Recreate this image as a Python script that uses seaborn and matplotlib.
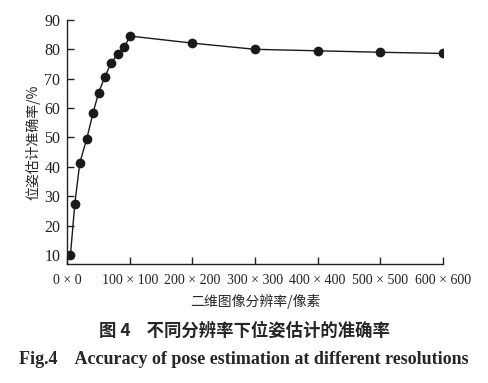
import pandas as pd
import seaborn as sns
import matplotlib.pyplot as plt

# resolution (side length in pixels) and pose estimation accuracy (%)
resolution = [5, 12, 20, 31, 41, 50, 60, 70, 81, 91, 100, 200, 300, 400, 500, 600]
accuracy = [10.2, 27.6, 41.5, 49.5, 58.3, 65.2, 70.6, 75.3, 78.4, 80.6, 84.4,
             82.0, 79.9, 79.4, 78.9, 78.5]
tick_values = [0, 100, 200, 300, 400, 500, 600]
tick_labels = ['0 × 0', '100 × 100', '200 × 200', '300 × 300', '400 × 400',
               '500 × 500', '600 × 600']

data = pd.DataFrame({'res': resolution, 'acc': accuracy})

sns.set_style('ticks')
plt.rcParams['font.family'] = ['Liberation Serif', 'Noto Sans CJK SC']
cjk = ['Noto Sans CJK SC', 'Liberation Serif']

fig = plt.figure(figsize=(4.88, 3.83), dpi=100)
ax = fig.add_axes([0.138, 0.310, 0.769, 0.639])

sns.lineplot(data=data, x='res', y='acc', ax=ax, color='#1a1a1a', linewidth=1.0,
             marker='o', markersize=7, markeredgewidth=0, markerfacecolor='#1a1a1a')

ax.set_xlim(0, 600)
ax.set_ylim(7, 90)
ax.set_xticks(tick_values)
ax.set_xticklabels(tick_labels)
ax.set_yticks(range(10, 91, 10))
ax.tick_params(direction='in', length=5, width=1, colors='#222222')
ax.tick_params(axis='x', pad=7, labelsize=10)
ax.tick_params(axis='y', pad=5, labelsize=11.5)
sns.despine(ax=ax)
for s in ['left', 'bottom']:
    ax.spines[s].set_linewidth(1.0)
    ax.spines[s].set_color('#222222')

ax.set_xlabel('二维图像分辨率/像素', family=cjk, fontsize=10, labelpad=5)
ax.set_ylabel('位姿估计准确率/%', family=cjk, fontsize=10, labelpad=3)

fig.text(0.5, 0.137, '图 4    不同分辨率下位姿估计的准确率', family=cjk,
         fontsize=12.5, fontweight='bold', ha='center', va='center')
fig.text(0.5, 0.062, 'Fig.4    Accuracy of pose estimation at different resolutions',
         family=['Liberation Serif'], fontsize=13, fontweight='bold',
         ha='center', va='center')

fig.savefig('out.png', dpi=100)
